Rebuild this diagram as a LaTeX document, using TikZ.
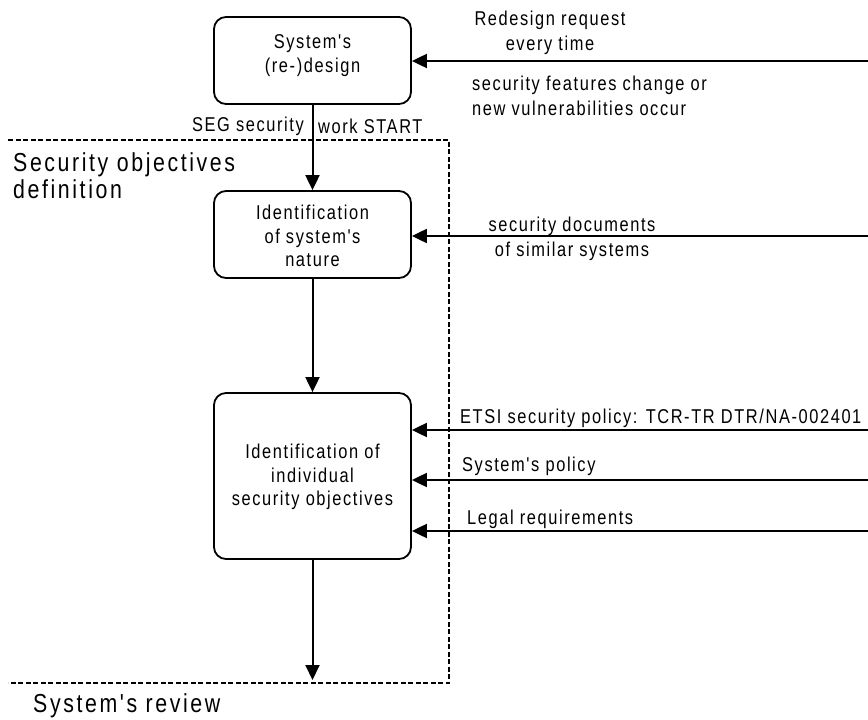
\documentclass[tikz,border=0pt]{standalone}
\usepackage{fontspec}
\setmainfont{Liberation Sans}[Ligatures=TeXOff,FakeStretch=0.82,LetterSpace=8]
\newfontfamily\bigfont{Liberation Sans}[Ligatures=TeXOff,FakeStretch=0.82,LetterSpace=10]
\usetikzlibrary{arrows.meta}
\begin{document}
\begin{tikzpicture}[x=1pt,y=-1pt,
  proc/.style={draw,line width=1.8pt,rounded corners=12pt,minimum width=197pt,inner sep=0pt},
  boxtext/.style={inner sep=0pt,align=center,font=\fontsize{20}{23.5}\selectfont},
  lbl/.style={inner sep=0pt,font=\fontsize{20}{25}\selectfont},
  big/.style={inner sep=0pt,align=left,font=\bigfont\fontsize{26}{27}\selectfont},
  conn/.style={line width=2pt,-{Triangle[length=15pt,width=14pt]}},
  region/.style={line width=1.3pt,dash pattern=on 5pt off 2.5pt}]
\useasboundingbox (0,0) rectangle (868,720);
% region
\draw[region] (8,140) -- (449,140) -- (449,683) -- (8,683);
% boxes
\node[proc,minimum height=87pt] (design) at (312.5,60.5) {};
\node[boxtext] (designtxt) at (312.5,55.5) {System's\\(re-)design};
\node[proc,minimum height=87pt] (nature) at (312.5,234.5) {};
\node[boxtext] (naturetxt) at (312.5,236) {Identification\\of system's\\nature};
\node[proc,minimum height=166pt] (objectives) at (312.5,476) {};
\node[boxtext] (objtxt) at (312.5,477) {Identification of\\individual\\security objectives};
% free ends
\coordinate (r1) at (868,61);
\coordinate (r2) at (868,236);
\coordinate (r3) at (868,430);
\coordinate (r4) at (868,480);
\coordinate (r5) at (868,531);
\coordinate (review) at (312.5,680);
% connectors
\draw[conn] (r1) -- (design.east |- r1);
\draw[conn] (r2) -- (nature.east |- r2);
\draw[conn] (r3) -- (objectives.east |- r3);
\draw[conn] (r4) -- (objectives.east |- r4);
\draw[conn] (r5) -- (objectives.east |- r5);
\draw[conn] (design) -- (nature);
\draw[conn] (nature) -- (objectives);
\draw[conn] (objectives) -- (review);
% labels
\node[lbl,align=center] (redesign) at (550,33) {Redesign request\\every time};
\node[lbl,anchor=west,align=left] (features) at (472,95.5) {security features change or\\new vulnerabilities occur};
\node[lbl,anchor=east] (seg) at (304,126) {SEG security};
\node[lbl,anchor=west] (start) at (318,126) {work START};
\node[lbl,align=center] (docs) at (572,238.5) {security documents\\of similar systems};
\node[lbl,anchor=west] (etsi) at (460,418) {ETSI security policy: TCR-TR DTR/NA-002401};
\node[lbl,anchor=west] (policy) at (462,466) {System's policy};
\node[lbl,anchor=west] (legal) at (467,519) {Legal requirements};
\node[big,anchor=west] (secdef) at (13,176) {Security objectives\\definition};
\node[big,anchor=west] (sysrev) at (33,706) {System's review};
\end{tikzpicture}
\end{document}
